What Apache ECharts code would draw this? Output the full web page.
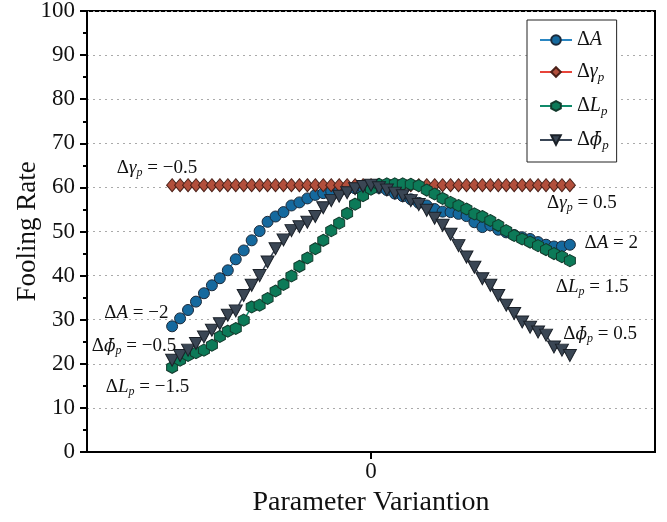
<!DOCTYPE html>
<html>
<head>
<meta charset="utf-8">
<script src="https://cdn.jsdelivr.net/npm/echarts@6/dist/echarts.min.js"></script>
<style>
  html, body { margin: 0; padding: 0; background: #fff; }
  #chart { width: 667px; height: 522px; }
</style>
</head>
<body>
<div id="chart"></div>
<script>
// parameter steps (x positions), 0 = unperturbed
const steps = [-25, -24, -23, -22, -21, -20, -19, -18, -17, -16, -15, -14, -13, -12, -11, -10, -9, -8, -7, -6, -5, -4, -3, -2, -1,
    0, 1, 2, 3, 4, 5, 6, 7, 8, 9, 10, 11, 12, 13, 14, 15, 16, 17, 18, 19, 20, 21, 22, 23, 24, 25];

const dA = [28.5, 30.3, 32.2, 34.1, 36.0, 37.8, 39.4, 41.2, 43.7, 45.7, 48.0, 50.1, 52.2, 53.4, 54.4, 55.9, 56.6, 57.5, 58.3, 58.7, 59.1, 59.4, 59.6, 59.8, 60.0,
    60.2, 59.9, 59.4, 58.6, 58.0, 57.3, 56.5, 55.9, 55.1, 54.5, 54.4, 54.0, 53.5, 52.1, 51.0, 51.4, 50.4, 49.8, 49.2, 48.7, 48.3, 47.6, 47.0, 46.6, 46.6, 47.0];
const dGamma = [60.5, 60.5, 60.5, 60.5, 60.5, 60.5, 60.5, 60.5, 60.5, 60.5, 60.5, 60.5, 60.5, 60.5, 60.5, 60.5, 60.5, 60.5, 60.5, 60.5, 60.5, 60.5, 60.5, 60.5, 60.5,
    60.5, 60.5, 60.5, 60.5, 60.5, 60.5, 60.5, 60.5, 60.5, 60.5, 60.5, 60.5, 60.5, 60.5, 60.5, 60.5, 60.5, 60.5, 60.5, 60.5, 60.5, 60.5, 60.5, 60.5, 60.5, 60.5];
const dL = [19.2, 20.8, 21.9, 22.5, 23.1, 24.2, 26.2, 27.4, 28.0, 29.9, 32.9, 33.3, 34.8, 36.5, 38.0, 39.9, 42.1, 44.0, 46.1, 48.0, 50.2, 51.9, 54.1, 56.2, 58.1,
    59.6, 60.7, 60.8, 60.8, 60.8, 60.7, 60.4, 59.4, 58.5, 57.5, 56.6, 55.9, 55.1, 54.0, 53.4, 52.5, 51.4, 50.2, 49.1, 48.3, 47.6, 46.8, 45.9, 45.0, 44.3, 43.4];
const dPhi = [20.8, 21.9, 23.1, 24.6, 26.1, 27.6, 29.1, 31.0, 32.0, 35.5, 37.8, 40.0, 43.1, 46.1, 48.1, 50.2, 51.1, 52.1, 53.4, 55.4, 57.0, 58.0, 58.8, 59.7, 60.2,
    60.5, 59.9, 59.4, 58.7, 58.1, 57.0, 56.1, 54.8, 53.0, 51.4, 49.4, 46.8, 44.2, 41.9, 39.3, 37.8, 35.5, 33.3, 31.4, 29.5, 28.3, 27.2, 26.5, 23.8, 23.1, 21.9];

const yTicks = [0, 10, 20, 30, 40, 50, 60, 70, 80, 90, 100];

// end annotations: [x, y, text]
const notesA = [[-29.5, 31.6, '-2'], [30.2, 47.5, '2']];
const notesGamma = [[-26.9, 64.5, '-0.5'], [26.5, 56.5, '0.5']];
const notesL = [[-28.1, 14.8, '-1.5'], [27.8, 37.5, '1.5']];
const notesPhi = [[-29.8, 24.0, '-0.5'], [28.8, 26.7, '0.5']];

const serif = '"Liberation Serif", "DejaVu Serif", serif';

const sym = {
    'ΔA': ['A', ''],
    'Δγp': ['γ', 'p'],
    'ΔLp': ['L', 'p'],
    'Δϕp': ['ϕ\u0304', 'p']
};

function richName(name) {
    const s = sym[name];
    let t = '{d|Δ}{' + (name === 'Δϕp' ? 'f' : 'i') + '|' + s[0] + '}';
    if (s[1]) t += '{s|' + s[1] + '}';
    return t;
}

function richStyles(size) {
    return {
        d: {fontFamily: serif, fontSize: size, color: '#111'},
        i: {fontFamily: serif, fontSize: size, fontStyle: 'italic', color: '#111'},
        f: {fontFamily: '"DejaVu Serif", serif', fontSize: Math.round(size * 0.9), fontStyle: 'italic', color: '#111'},
        s: {fontFamily: serif, fontSize: Math.round(size * 0.65), fontStyle: 'italic', color: '#111',
            padding: [Math.round(size * 0.55), 0, 0, 0]},
        t: {fontFamily: serif, fontSize: size, color: '#111'}
    };
}

function pairs(vals) {
    return steps.map(function (x, i) {
        return [x, vals[i]];
    });
}

function notes(list, name) {
    return {
        symbol: 'circle',
        symbolSize: 0,
        silent: true,
        itemStyle: {color: 'rgba(0,0,0,0)'},
        label: {
            show: true,
            position: 'inside',
            rich: richStyles(19),
            formatter: function (p) {
                return richName(name) + '{t| = ' + p.data.txt.replace('-', '\u2212') + '}';
            }
        },
        data: list.map(function (n) {
            return {coord: [n[0], n[1]], txt: n[2]};
        })
    };
}

const hexagon = 'path://M0,-1L0.866,-0.5L0.866,0.5L0,1L-0.866,0.5L-0.866,-0.5Z';

const myChart = echarts.init(document.getElementById('chart'));
const option = {
    backgroundColor: '#ffffff',
    animation: false,
    grid: {
        left: 87,
        right: 12,
        top: 11,
        bottom: 70,
        outerBoundsMode: 'none',
        containLabel: false,
        show: true,
        borderColor: '#000',
        borderWidth: 2
    },
    legend: {
        orient: 'vertical',
        left: 527,
        top: 20,
        padding: [10, 8, 10, 12],
        itemGap: 12,
        itemWidth: 32,
        itemHeight: 12,
        borderColor: '#222',
        borderWidth: 1,
        backgroundColor: '#fff',
        formatter: function (name) {
            return richName(name);
        },
        textStyle: {
            rich: richStyles(20)
        }
    },
    xAxis: {
        type: 'value',
        min: -35.7,
        max: 35.7,
        splitLine: {show: false},
        axisLine: {onZero: false, lineStyle: {color: '#000', width: 2}},
        axisTick: {
            customValues: [0],
            length: 7,
            lineStyle: {color: '#000', width: 2}
        },
        axisLabel: {
            customValues: [0],
            fontFamily: serif,
            fontSize: 23,
            color: '#111',
            margin: 8
        },
        name: 'Parameter Variantion',
        nameLocation: 'middle',
        nameGap: 37,
        nameTextStyle: {fontFamily: serif, fontSize: 28, color: '#111'}
    },
    yAxis: {
        type: 'value',
        min: yTicks[0],
        max: yTicks[yTicks.length - 1],
        interval: 10,
        axisLine: {show: true, onZero: false, lineStyle: {color: '#000', width: 2}},
        axisTick: {show: true, length: 7, lineStyle: {color: '#000', width: 2}},
        minorTick: {show: true, splitNumber: 2, length: 4, lineStyle: {color: '#000', width: 2}},
        splitLine: {show: true, lineStyle: {color: '#aaa', type: [2, 4], width: 1}},
        axisLabel: {
            fontFamily: serif,
            fontSize: 23,
            color: '#111',
            margin: 12
        },
        name: 'Fooling Rate',
        nameLocation: 'middle',
        nameMoveOverlap: false,
        nameGap: 46,
        nameTextStyle: {fontFamily: serif, fontSize: 27, color: '#111'}
    },
    series: [
        {
            name: 'ΔA',
            type: 'line',
            data: pairs(dA),
            symbol: 'circle',
            symbolSize: 11,
            lineStyle: {color: '#2a86c2', width: 1.5},
            itemStyle: {color: '#15699e', borderColor: '#1c2a3a', borderWidth: 1},
            markPoint: notes(notesA, 'ΔA')
        },
        {
            name: 'Δγp',
            type: 'line',
            data: pairs(dGamma),
            symbol: 'diamond',
            symbolSize: [11, 13],
            lineStyle: {color: '#e8443a', width: 1.5},
            itemStyle: {color: '#b24f3c', borderColor: '#4a2018', borderWidth: 1},
            markPoint: notes(notesGamma, 'Δγp')
        },
        {
            name: 'ΔLp',
            type: 'line',
            data: pairs(dL),
            symbol: hexagon,
            symbolSize: [11, 12],
            lineStyle: {color: '#108a6a', width: 1.5},
            itemStyle: {color: '#0c7a58', borderColor: '#123a2c', borderWidth: 1},
            markPoint: notes(notesL, 'ΔLp')
        },
        {
            name: 'Δϕp',
            type: 'line',
            data: pairs(dPhi),
            symbol: 'triangle',
            symbolRotate: 180,
            symbolSize: [13, 12],
            lineStyle: {color: '#3a4656', width: 1.5},
            itemStyle: {color: '#3a4654', borderColor: '#1a2028', borderWidth: 1},
            markPoint: notes(notesPhi, 'Δϕp')
        }
    ]
};
myChart.setOption(option);
window.onresize = myChart.resize;
</script>
</body>
</html>
